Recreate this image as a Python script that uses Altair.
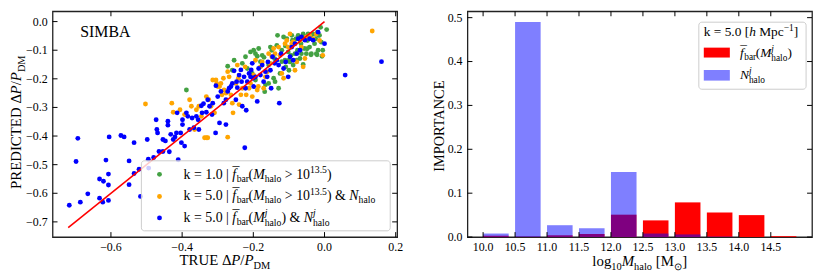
import altair as alt
import pandas as pd

# ---------------- data ----------------
green_true = [-0.388, -0.272, -0.259, -0.254, -0.231, -0.222, -0.217, -0.208, -0.203, -0.199, -0.194, -0.194,
              -0.189, -0.185, -0.175, -0.168, -0.166, -0.157, -0.157, -0.152, -0.148, -0.143, -0.139, -0.134,
              -0.129, -0.125, -0.120, -0.115, -0.111, -0.109, -0.106, -0.102, -0.100, -0.097, -0.094, -0.092,
              -0.088, -0.085, -0.083, -0.080, -0.078, -0.076, -0.074, -0.069, -0.066, -0.065, -0.060, -0.057,
              -0.055, -0.051, -0.048, -0.046, -0.042, -0.039, -0.037, -0.032, -0.028, -0.025, -0.023, -0.020,
              -0.018, -0.014, -0.011, -0.009, -0.005, 0.006, -0.007, -0.021, -0.038, -0.049, -0.017, -0.132,
              -0.120, -0.140, -0.170, -0.180, -0.100, -0.060, -0.090, -0.110]
green_pred = [-0.239, -0.156, -0.170, -0.135, -0.146, -0.123, -0.164, -0.106, -0.181, -0.100, -0.112, -0.204,
              -0.121, -0.094, -0.118, -0.245, -0.221, -0.216, -0.152, -0.089, -0.100, -0.198, -0.210, -0.083,
              -0.233, -0.181, -0.100, -0.054, -0.135, -0.158, -0.060, -0.106, -0.135, -0.141, -0.118, -0.048,
              -0.152, -0.077, -0.112, -0.060, -0.135, -0.100, -0.048, -0.129, -0.077, -0.112, -0.043, -0.094,
              -0.052, -0.112, -0.066, -0.043, -0.089, -0.054, -0.112, -0.043, -0.077, -0.060, -0.112, -0.037,
              -0.100, -0.048, -0.020, -0.072, -0.100, -0.028, -0.121, -0.116, -0.116, -0.095, -0.048, -0.048,
              -0.140, -0.130, -0.125, -0.140, -0.170, -0.150, -0.065, -0.085]

orange_true = [-0.503, -0.429, -0.425, -0.406, -0.393, -0.379, -0.374, -0.365, -0.360, -0.353, -0.346, -0.337,
               -0.332, -0.328, -0.332, -0.325, -0.319, -0.314, -0.309, -0.305, -0.303, -0.300, -0.295, -0.291,
               -0.288, -0.284, -0.282, -0.277, -0.272, -0.272, -0.268, -0.263, -0.259, -0.257, -0.249, -0.245,
               -0.242, -0.240, -0.235, -0.231, -0.223, -0.220, -0.212, -0.208, -0.203, -0.199, -0.194, -0.189,
               -0.186, -0.180, -0.175, -0.171, -0.166, -0.161, -0.157, -0.152, -0.148, -0.143, -0.139, -0.129,
               -0.125, -0.120, -0.115, -0.111, -0.106, -0.102, -0.097, -0.092, -0.088, -0.083, -0.078, -0.069,
               -0.065, -0.060, -0.055, -0.051, -0.042, -0.032, -0.023, -0.014, -0.005, 0.134]
orange_pred = [-0.288, -0.285, -0.317, -0.308, -0.325, -0.273, -0.296, -0.377, -0.308, -0.296, -0.331, -0.406,
               -0.406, -0.406, -0.262, -0.273, -0.296, -0.204, -0.319, -0.204, -0.216, -0.227, -0.227, -0.216,
               -0.256, -0.198, -0.239, -0.250, -0.175, -0.404, -0.193, -0.256, -0.285, -0.319, -0.216, -0.152,
               -0.198, -0.290, -0.256, -0.233, -0.158, -0.256, -0.233, -0.216, -0.262, -0.187, -0.135, -0.239,
               -0.227, -0.158, -0.141, -0.233, -0.193, -0.175, -0.112, -0.146, -0.123, -0.094, -0.112, -0.089,
               -0.118, -0.181, -0.198, -0.077, -0.066, -0.089, -0.043, -0.077, -0.071, -0.170, -0.141, -0.066,
               -0.089, -0.158, -0.129, -0.054, -0.048, -0.060, -0.043, -0.066, -0.118, -0.033]

blue_true = [-0.717, -0.686, -0.698, -0.693, -0.665, -0.632, -0.621, -0.632, -0.623, -0.607, -0.614, -0.607,
             -0.607, -0.605, -0.572, -0.563, -0.549, -0.549, -0.535, -0.535, -0.521, -0.517, -0.498, -0.495,
             -0.494, -0.480, -0.473, -0.471, -0.469, -0.465, -0.454, -0.454, -0.447, -0.440, -0.440, -0.436,
             -0.432, -0.425, -0.420, -0.416, -0.411, -0.414, -0.404, -0.402, -0.399, -0.399, -0.393, -0.388,
             -0.384, -0.379, -0.372, -0.367, -0.360, -0.355, -0.353, -0.346, -0.344, -0.340, -0.332, -0.328,
             -0.323, -0.316, -0.314, -0.306, -0.305, -0.300, -0.295, -0.291, -0.283, -0.277, -0.277, -0.272,
             -0.268, -0.263, -0.259, -0.254, -0.249, -0.247, -0.245, -0.240, -0.235, -0.233, -0.231, -0.226,
             -0.224, -0.222, -0.220, -0.217, -0.212, -0.208, -0.206, -0.203, -0.201, -0.199, -0.194, -0.189,
             -0.185, -0.180, -0.175, -0.171, -0.166, -0.161, -0.159, -0.152, -0.150, -0.146, -0.140, -0.134,
             -0.129, -0.127, -0.122, -0.115, -0.109, -0.102, -0.097, -0.092, -0.088, -0.083, -0.078, -0.074,
             -0.069, -0.065, -0.055, -0.042, -0.032, -0.018, 0.000, 0.058, 0.160]
blue_pred = [-0.642, -0.631, -0.489, -0.408, -0.602, -0.550, -0.558, -0.617, -0.631, -0.625, -0.484, -0.533,
             -0.571, -0.403, -0.398, -0.403, -0.487, -0.570, -0.423, -0.531, -0.516, -0.611, -0.412, -0.481,
             -0.512, -0.475, -0.343, -0.377, -0.389, -0.454, -0.412, -0.454, -0.417, -0.348, -0.362, -0.455,
             -0.394, -0.412, -0.403, -0.389, -0.483, -0.319, -0.389, -0.423, -0.343, -0.360, -0.435, -0.319,
             -0.331, -0.377, -0.337, -0.371, -0.331, -0.343, -0.377, -0.294, -0.319, -0.287, -0.317, -0.273,
             -0.296, -0.325, -0.285, -0.389, -0.224, -0.262, -0.354, -0.244, -0.285, -0.360, -0.273, -0.244,
             -0.233, -0.227, -0.216, -0.172, -0.273, -0.210, -0.231, -0.187, -0.169, -0.210, -0.296, -0.193,
             -0.441, -0.233, -0.310, -0.210, -0.181, -0.193, -0.169, -0.146, -0.198, -0.227, -0.193, -0.279,
             -0.164, -0.187, -0.152, -0.210, -0.175, -0.193, -0.141, -0.170, -0.233, -0.123, -0.146, -0.135,
             -0.152, -0.285, -0.112, -0.164, -0.141, -0.193, -0.123, -0.089, -0.135, -0.077, -0.112, -0.060,
             -0.100, -0.054, -0.065, -0.060, -0.065, -0.037, -0.077, -0.187, -0.140]

line_true = [-0.72, 0.0]
line_pred = [-0.72, 0.0]

mass_bins = [10.0, 10.5, 11.0, 11.5, 12.0, 12.5, 13.0, 13.5, 14.0, 14.5]
fbar_importance = [0.003, 0.001, 0.004, 0.007, 0.051, 0.038, 0.079, 0.056, 0.050, 0.002]
nhalo_importance = [0.008, 0.490, 0.027, 0.020, 0.148, 0.008, 0.006, 0.001, 0.000, 0.000]
bin_width = 0.4

left_xticks = [-0.6, -0.4, -0.2, 0.0, 0.2]
left_yticks = [-0.7, -0.6, -0.5, -0.4, -0.3, -0.2, -0.1, 0.0]
right_xticks = [10.0, 10.5, 11.0, 11.5, 12.0, 12.5, 13.0, 13.5, 14.0, 14.5]
right_yticks = [0.0, 0.1, 0.2, 0.3, 0.4, 0.5]

GREEN, ORANGE, BLUE, RED = "#43a143", "#ffa500", "#0000ff", "#ff0000"
FONT = "Liberation Serif"
W, H = 348, 228
TICKFS = 12
DOT = 24

# ---------------- rich-text helper (Times metrics) ----------------
WN = {" ": 250, "&": 778, "(": 333, ")": 333, ".": 250, "/": 278, "=": 564, ">": 564, "[": 333, "]": 333,
      "|": 200, "−": 564, "Δ": 620, "¯": 333, "⊙": 800}
for c in "0123456789":
    WN[c] = 500
WN.update(dict(zip("ABCDEFGHIJKLMNOPQRSTUVWXYZ",
                   [722, 667, 667, 722, 611, 556, 722, 722, 333, 389, 722, 611, 889, 722, 722, 556, 722, 667, 556,
                    611, 722, 722, 944, 722, 722, 611])))
WN.update(dict(zip("abcdefghijklmnopqrstuvwxyz",
                   [444, 500, 444, 500, 444, 333, 500, 500, 278, 278, 500, 278, 778, 500, 500, 500, 500, 333, 389,
                    278, 500, 500, 722, 500, 500, 444])))
WI = {"f": 278, "h": 500, "j": 278, "M": 833, "N": 667, "P": 611}


def tw(s, st):
    t = WI if st == "i" else WN
    return sum(t.get(ch, 500) for ch in s) / 1000.0


def build(segs, x0, y0, size, angle=0, align="left"):
    placed, cur, pend = [], 0.0, 0.0
    for seg in segs:
        txt, st, sc, sh, mode = seg[:5]
        ox = seg[5] if len(seg) > 5 else 0.0
        fs = size * sc
        w = tw(txt, st) * fs
        lead = len(txt) - len(txt.lstrip(" "))
        placed.append((txt.strip(" "), st, fs, cur + ox * size + lead * 0.25 * fs, sh * size))
        if mode == "a":
            cur += max(w, pend)
            pend = 0.0
        elif mode == "s":
            pend = max(pend, w)
    start = -cur / 2 if align == "center" else 0.0
    rows = []
    for txt, st, fs, adv, shp in placed:
        a = start + adv
        if angle == 0:
            px, py = x0 + a, y0 - shp
        else:
            px, py = x0 - shp, y0 - a
        rows.append(dict(t=txt, s=st, fs=fs, px=px, py=py, ang=angle))
    return rows


def N(t):
    return (t, "n", 1, 0, "a")


def I(t):
    return (t, "i", 1, 0, "a")


def SUB(t, st="n"):
    return (t, st, 0.7, -0.22, "a")


def fbar():
    return [("¯", "n", 1, 0.14, "z", 0.02), I("f"), ("bar", "n", 0.7, -0.22, "a", 0.04)]


def stacked(base):
    return [I(base), ("j", "i", 0.7, 0.40, "s"), ("halo", "n", 0.7, -0.26, "a")]


dp = [N("Δ"), I("P"), N("/"), I("P"), SUB("DM")]

# ---------------- text tables ----------------
LF = 14
left_txt = []
left_txt += build([N("SIMBA")], 28, 25.5, 16)
left_txt += build([N("TRUE ")] + dp, W / 2, 256.5, 15, align="center")
left_txt += build([N("PREDICTED ")] + dp, -31.5, 112, 15, angle=270, align="center")
leg_x = 132.3
left_txt += build([N("k = 1.0 | ")] + fbar() + [N("("), I("M"), SUB("halo"), N(" > 10"),
                                                ("13.5", "n", 0.7, 0.40, "a"), N(")")], leg_x, 169.3, LF)
left_txt += build([N("k = 5.0 | ")] + fbar() + [N("("), I("M"), SUB("halo"), N(" > 10"),
                                                ("13.5", "n", 0.7, 0.40, "a"), N(") & "), I("N"), SUB("halo")],
                  leg_x, 191.0, LF)
left_txt += build([N("k = 5.0 | ")] + fbar() + [N("(")] + stacked("M") + [N(") & ")] + stacked("N"),
                  leg_x, 212.7, LF)

RF = 13.5
right_txt = []
right_txt += build([N("IMPORTANCE")], -24, 115, 14.5, angle=270, align="center")
right_txt += build([N("log"), SUB("10"), I("M"), SUB("halo"), N(" [M"), SUB("⊙"), N("]")],
                   W / 2, 257.7, 15, align="center")
right_txt += build([N("k = 5.0 ["), I("h"), N(" Mpc"), ("−1", "n", 0.7, 0.40, "a"), N("]")], 238.7, 25, RF)
right_txt += build(fbar() + [N("(")] + stacked("M") + [N(")")], 275.3, 46.5, RF)
right_txt += build(stacked("N"), 275.3, 68.5, RF)


def text_layers(rows):
    df = pd.DataFrame(rows)
    out = []
    for st, fstyle in (("n", "normal"), ("i", "italic")):
        sub = df[df.s == st]
        out.append(alt.Chart(sub).mark_text(align="left", baseline="alphabetic", font=FONT,
                                            fontStyle=fstyle, color="black").encode(
            x=alt.X("px:Q", scale=None), y=alt.Y("py:Q", scale=None),
            size=alt.Size("fs:Q", scale=None, legend=None),
            angle=alt.Angle("ang:Q", scale=None), text="t:N"))
    return out


one = pd.DataFrame({"a": [0]})


def ticks_and_labels(xt, yt, xs, ys):
    dx = pd.DataFrame({"x": xt})
    dy = pd.DataFrame({"y": yt})
    L = 5
    base_x = alt.Chart(dx).mark_rule(color="black", strokeWidth=1)
    base_y = alt.Chart(dy).mark_rule(color="black", strokeWidth=1)
    X = alt.X("x:Q", scale=xs, axis=None)
    Y = alt.Y("y:Q", scale=ys, axis=None)
    return [
        base_x.encode(x=X, y=alt.value(H - L), y2=alt.value(H)),
        base_x.encode(x=X, y=alt.value(0), y2=alt.value(L)),
        base_y.encode(y=Y, x=alt.value(0), x2=alt.value(L)),
        base_y.encode(y=Y, x=alt.value(W - L), x2=alt.value(W)),
        alt.Chart(dx).mark_text(align="center", baseline="top", font=FONT, fontSize=TICKFS, color="black").encode(
            x=X, y=alt.value(H + 5), text=alt.Text("x:Q", format=".1f")),
        alt.Chart(dy).mark_text(align="right", baseline="middle", font=FONT, fontSize=TICKFS, color="black").encode(
            y=Y, x=alt.value(-5), text=alt.Text("y:Q", format=".1f")),
    ]


def grid_axis(vals):
    return alt.Axis(values=vals, labels=False, ticks=False, domain=False, title=None, grid=True)


# ---------------- left panel ----------------
xs_l = alt.Scale(domain=[-0.764, 0.204], nice=False, zero=False)
ys_l = alt.Scale(domain=[-0.753, 0.036], nice=False, zero=False)


def scatter(xv, yv, color, first=False):
    df = pd.DataFrame({"x": xv, "y": yv})
    return alt.Chart(df).mark_circle(size=DOT, color=color, opacity=1).encode(
        x=alt.X("x:Q", scale=xs_l, axis=grid_axis(left_xticks) if first else None),
        y=alt.Y("y:Q", scale=ys_l, axis=grid_axis(left_yticks) if first else None))


line = alt.Chart(pd.DataFrame({"x": line_true, "y": line_pred})).mark_line(color=RED, strokeWidth=1.6).encode(
    x=alt.X("x:Q", scale=xs_l, axis=None), y=alt.Y("y:Q", scale=ys_l, axis=None))

leg_box_l = alt.Chart(one).mark_rect(fill="white", fillOpacity=0.8, stroke="#cccccc", strokeWidth=1,
                                     cornerRadius=3).encode(
    x=alt.value(89.7), x2=alt.value(341), y=alt.value(151), y2=alt.value(221.7))
leg_dots = alt.Chart(pd.DataFrame({"px": [108, 108, 108], "py": [164.7, 187.0, 208.7],
                                   "c": [GREEN, ORANGE, BLUE]})).mark_circle(size=DOT, opacity=1).encode(
    x=alt.X("px:Q", scale=None), y=alt.Y("py:Q", scale=None), color=alt.Color("c:N", scale=None))

left = alt.layer(
    scatter(green_true, green_pred, GREEN, first=True),
    scatter(orange_true, orange_pred, ORANGE),
    scatter(blue_true, blue_pred, BLUE),
    line, leg_box_l, leg_dots,
    *text_layers(left_txt),
    *ticks_and_labels(left_xticks, left_yticks, xs_l, ys_l),
).properties(width=W, height=H)

# ---------------- right panel ----------------
xs_r = alt.Scale(domain=[9.755, 15.145], nice=False, zero=False)
ys_r = alt.Scale(domain=[0, 0.5145], nice=False, zero=False)
bars = pd.DataFrame({"x": mass_bins, "fbar": fbar_importance, "nhalo": nhalo_importance})

red_bars = alt.Chart(bars).transform_calculate(x2=f"datum.x + {bin_width}").mark_rect(color=RED).encode(
    x=alt.X("x:Q", scale=xs_r, axis=grid_axis(right_xticks)),
    x2="x2:Q",
    y=alt.Y("fbar:Q", scale=ys_r, axis=grid_axis(right_yticks)),
    y2=alt.datum(0))
blue_bars = alt.Chart(bars).transform_calculate(x2=f"datum.x + {bin_width}").mark_rect(
    color=BLUE, opacity=0.5).encode(
    x=alt.X("x:Q", scale=xs_r, axis=None), x2="x2:Q", y=alt.Y("nhalo:Q", scale=ys_r, axis=None), y2=alt.datum(0))

leg_box_r = alt.Chart(one).mark_rect(fill="white", fillOpacity=0.8, stroke="#cccccc", strokeWidth=1,
                                     cornerRadius=3).encode(
    x=alt.value(233.7), x2=alt.value(342), y=alt.value(11), y2=alt.value(78.7))
patch_red = alt.Chart(one).mark_rect(color=RED).encode(
    x=alt.value(238.7), x2=alt.value(265), y=alt.value(36.7), y2=alt.value(46.7))
patch_blue = alt.Chart(one).mark_rect(color=BLUE, opacity=0.5).encode(
    x=alt.value(238.7), x2=alt.value(265), y=alt.value(59.3), y2=alt.value(70))

right = alt.layer(
    red_bars, blue_bars, leg_box_r, patch_red, patch_blue,
    *text_layers(right_txt),
    *ticks_and_labels(right_xticks, right_yticks, xs_r, ys_r),
).properties(width=W, height=H)

chart = alt.hconcat(left, right, spacing=27).properties(
    padding={"left": 0, "top": 0, "right": 0, "bottom": 0}
).configure_view(stroke="#222222", strokeWidth=1.3).configure_axis(
    gridColor="#e3e3e3", gridWidth=1)

chart.save("out.html", embed_options={"renderer": "svg", "actions": False})
